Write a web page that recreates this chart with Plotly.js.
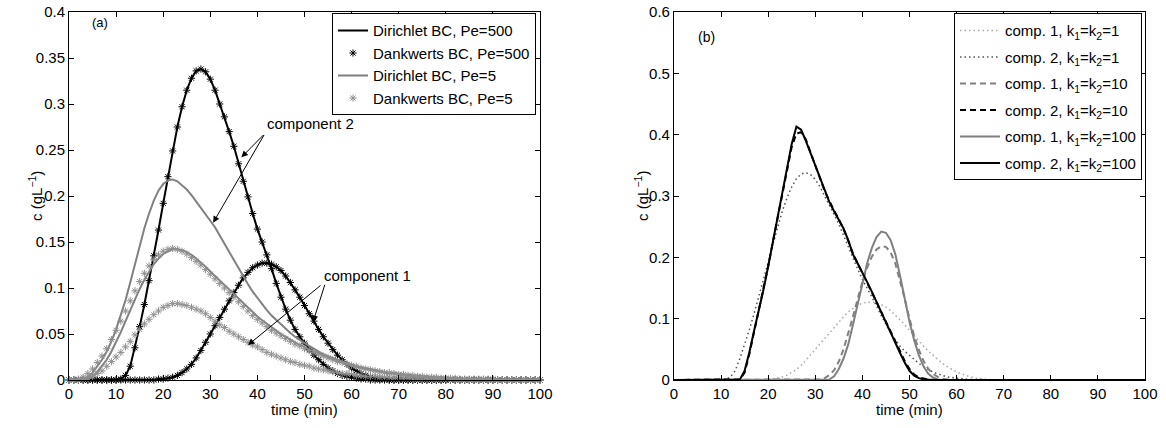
<!DOCTYPE html>
<html>
<head>
<meta charset="utf-8">
<script src="https://cdn.plot.ly/plotly-3.0.1.min.js"></script>
<style>html,body{margin:0;padding:0;background:#fff;}#chart{width:1166px;height:428px;}</style>
</head>
<body>
<div id="chart"></div>
<script>
// time axis (min)
const time = [0,1,2,3,4,5,6,7,8,9,10,11,12,13,14,15,16,17,18,19,20,21,22,23,24,25,26,27,28,29,30,31,32,33,34,35,36,37,38,39,40,41,42,43,44,45,46,47,48,49,50,51,52,53,54,55,56,57,58,59,60,61,62,63,64,65,66,67,68,69,70,71,72,73,74,75,76,77,78,79,80,81,82,83,84,85,86,87,88,89,90,91,92,93,94,95,96,97,98,99,100];

// Panel (a): Pe = 500 (Dirichlet and Dankwerts coincide)
const pe500_c2 = [0,0,0,0,0,0,0,0,0,0,0,0.001,0.005,0.015,0.035,0.058,0.082,0.108,0.135,0.163,0.192,0.221,0.249,0.275,0.297,0.315,0.328,0.336,0.338,0.335,0.327,0.315,0.300,0.286,0.270,0.254,0.235,0.216,0.199,0.181,0.164,0.150,0.136,0.121,0.105,0.090,0.077,0.065,0.055,0.047,0.040,0.033,0.027,0.022,0.017,0.013,0.010,0.007,0.005,0.004,0.003,0.002,0.001,0.001,0,0,0,0,0,0,0,0,0,0,0,0,0,0,0,0,0,0,0,0,0,0,0,0,0,0,0,0,0,0,0,0,0,0,0,0,0];
const pe500_c1 = [0,0,0,0,0,0,0,0,0,0,0,0,0,0,0,0,0,0,0,0.001,0.001,0.002,0.003,0.005,0.008,0.012,0.017,0.024,0.032,0.041,0.050,0.059,0.068,0.077,0.086,0.095,0.103,0.111,0.117,0.122,0.125,0.127,0.127,0.126,0.123,0.119,0.113,0.106,0.098,0.090,0.081,0.072,0.064,0.055,0.047,0.040,0.033,0.027,0.022,0.017,0.013,0.010,0.007,0.005,0.003,0.002,0.001,0.001,0,0,0,0,0,0,0,0,0,0,0,0,0,0,0,0,0,0,0,0,0,0,0,0,0,0,0,0,0,0,0,0,0];

// Panel (a): Pe = 5, Dirichlet BC (lines)
const pe5dir_c2 = [0,0,0,0.001,0.003,0.008,0.015,0.022,0.031,0.042,0.055,0.070,0.087,0.106,0.126,0.146,0.165,0.181,0.195,0.206,0.213,0.217,0.218,0.216,0.212,0.207,0.201,0.194,0.187,0.180,0.173,0.166,0.157,0.148,0.139,0.130,0.121,0.112,0.104,0.096,0.089,0.082,0.076,0.070,0.065,0.060,0.055,0.051,0.047,0.043,0.040,0.037,0.034,0.031,0.028,0.026,0.024,0.022,0.020,0.018,0.016,0.015,0.013,0.012,0.011,0.010,0.009,0.008,0.007,0.007,0.006,0.005,0.005,0.004,0.004,0.003,0.003,0.003,0.002,0.002,0.002,0.002,0.001,0.001,0.001,0.001,0.001,0.001,0.001,0,0,0,0,0,0,0,0,0,0,0,0];
const pe5dir_c1 = [0,0,0,0,0.001,0.004,0.009,0.015,0.022,0.031,0.041,0.052,0.064,0.076,0.088,0.099,0.109,0.118,0.126,0.132,0.137,0.140,0.142,0.142,0.141,0.139,0.136,0.132,0.128,0.123,0.118,0.113,0.108,0.103,0.098,0.093,0.088,0.083,0.078,0.073,0.069,0.065,0.061,0.057,0.053,0.050,0.047,0.044,0.041,0.038,0.036,0.033,0.031,0.029,0.027,0.025,0.023,0.021,0.020,0.018,0.017,0.015,0.014,0.013,0.012,0.011,0.010,0.009,0.008,0.008,0.007,0.006,0.006,0.005,0.005,0.004,0.004,0.003,0.003,0.003,0.002,0.002,0.002,0.002,0.001,0.001,0.001,0.001,0.001,0.001,0.001,0,0,0,0,0,0,0,0,0,0];

// Panel (a): Pe = 5, Dankwerts BC (markers)
const pe5dank_c2 = [0,0,0.001,0.003,0.007,0.012,0.019,0.026,0.034,0.044,0.054,0.064,0.075,0.086,0.097,0.107,0.116,0.124,0.131,0.136,0.140,0.142,0.143,0.142,0.140,0.137,0.133,0.129,0.125,0.120,0.115,0.110,0.105,0.100,0.095,0.090,0.085,0.080,0.075,0.070,0.066,0.062,0.058,0.054,0.051,0.048,0.045,0.042,0.039,0.037,0.034,0.032,0.030,0.028,0.026,0.024,0.022,0.020,0.019,0.017,0.016,0.015,0.013,0.012,0.011,0.010,0.009,0.008,0.008,0.007,0.006,0.006,0.005,0.005,0.004,0.004,0.003,0.003,0.003,0.002,0.002,0.002,0.002,0.001,0.001,0.001,0.001,0.001,0.001,0.001,0.001,0,0,0,0,0,0,0,0,0,0];
const pe5dank_c1 = [0,0,0,0.001,0.002,0.004,0.007,0.010,0.015,0.020,0.025,0.030,0.036,0.042,0.049,0.055,0.061,0.066,0.071,0.075,0.079,0.081,0.083,0.083,0.082,0.081,0.079,0.077,0.075,0.072,0.068,0.064,0.060,0.057,0.053,0.050,0.047,0.044,0.041,0.038,0.036,0.033,0.030,0.028,0.026,0.024,0.022,0.020,0.019,0.017,0.016,0.015,0.013,0.012,0.011,0.010,0.009,0.008,0.007,0.007,0.006,0.005,0.005,0.004,0.004,0.004,0.003,0.003,0.003,0.002,0.002,0.002,0.002,0.001,0.001,0.001,0.001,0.001,0.001,0.001,0.001,0,0,0,0,0,0,0,0,0,0,0,0,0,0,0,0,0,0,0,0];

// Panel (b)
const k1_c1 = pe500_c1;
const k1_c2 = pe500_c2;
const k10_c1 = [0,0,0,0,0,0,0,0,0,0,0,0,0,0,0,0,0,0,0,0,0,0,0,0,0,0,0,0,0,0,0,0.001,0.003,0.008,0.016,0.030,0.050,0.075,0.103,0.132,0.160,0.183,0.201,0.213,0.218,0.217,0.208,0.190,0.163,0.132,0.100,0.072,0.049,0.031,0.018,0.010,0.005,0.002,0.001,0,0,0,0,0,0,0,0,0,0,0,0,0,0,0,0,0,0,0,0,0,0,0,0,0,0,0,0,0,0,0,0,0,0,0,0,0,0,0,0,0,0];
const k10_c2 = [0,0,0,0,0,0,0,0,0,0,0,0,0,0,0.001,0.012,0.042,0.078,0.112,0.147,0.185,0.225,0.265,0.304,0.343,0.380,0.402,0.404,0.392,0.372,0.351,0.329,0.308,0.291,0.276,0.262,0.246,0.227,0.206,0.190,0.175,0.159,0.143,0.127,0.111,0.095,0.079,0.062,0.046,0.031,0.018,0.009,0.004,0.002,0.001,0,0,0,0,0,0,0,0,0,0,0,0,0,0,0,0,0,0,0,0,0,0,0,0,0,0,0,0,0,0,0,0,0,0,0,0,0,0,0,0,0,0,0,0,0,0];
const k100_c1 = [0,0,0,0,0,0,0,0,0,0,0,0,0,0,0,0,0,0,0,0,0,0,0,0,0,0,0,0,0,0,0,0,0,0.001,0.006,0.018,0.035,0.058,0.090,0.125,0.160,0.190,0.215,0.233,0.242,0.240,0.228,0.205,0.170,0.130,0.095,0.065,0.040,0.022,0.010,0.004,0.001,0,0,0,0,0,0,0,0,0,0,0,0,0,0,0,0,0,0,0,0,0,0,0,0,0,0,0,0,0,0,0,0,0,0,0,0,0,0,0,0,0,0,0,0];
const k100_c2 = [0,0,0,0,0,0,0,0,0,0,0,0,0,0,0.001,0.015,0.045,0.080,0.113,0.147,0.185,0.225,0.265,0.305,0.345,0.385,0.413,0.408,0.390,0.370,0.350,0.328,0.307,0.290,0.275,0.262,0.247,0.228,0.205,0.190,0.176,0.160,0.144,0.127,0.110,0.094,0.077,0.060,0.044,0.028,0.015,0.007,0.003,0.001,0,0,0,0,0,0,0,0,0,0,0,0,0,0,0,0,0,0,0,0,0,0,0,0,0,0,0,0,0,0,0,0,0,0,0,0,0,0,0,0,0,0,0,0,0,0,0];

// Labels
const legendA = ['Dirichlet BC, Pe=500', 'Dankwerts BC, Pe=500', 'Dirichlet BC, Pe=5', 'Dankwerts BC, Pe=5'];
const legendB = ['comp. 1, k<sub>1</sub>=k<sub>2</sub>=1', 'comp. 2, k<sub>1</sub>=k<sub>2</sub>=1',
                 'comp. 1, k<sub>1</sub>=k<sub>2</sub>=10', 'comp. 2, k<sub>1</sub>=k<sub>2</sub>=10',
                 'comp. 1, k<sub>1</sub>=k<sub>2</sub>=100', 'comp. 2, k<sub>1</sub>=k<sub>2</sub>=100'];
const xTicks = [0,10,20,30,40,50,60,70,80,90,100];
const yTitle = 'c (gL<sup>−1</sup>)';
const xTitle = 'time (min)';

const BLACK = '#000000', GRAY = '#808080', LGRAY = '#8f8f8f';

function lineTr(y, color, name, show, xa, ya, dash, width, leg, grp) {
  return {x: time, y: y, type: 'scatter', mode: 'lines', name: name, showlegend: show,
          xaxis: xa, yaxis: ya, line: {color: color, width: width || 2, dash: dash || 'solid'},
          legend: leg || 'legend', legendgroup: grp, cliponaxis: false, hoverinfo: 'skip'};
}
function markTr(y, color, name, show) {
  return {x: time, y: y, type: 'scatter', mode: 'markers', name: name, showlegend: show,
          xaxis: 'x', yaxis: 'y', cliponaxis: false, hoverinfo: 'skip',
          marker: {symbol: 'asterisk-open', size: 6, color: color, line: {color: color, width: 1}}};
}

const traces = [
  lineTr(pe500_c1, BLACK, legendA[0], true, 'x', 'y'),
  lineTr(pe500_c2, BLACK, legendA[0], false, 'x', 'y'),
  markTr(pe500_c1, BLACK, legendA[1], true),
  markTr(pe500_c2, BLACK, legendA[1], false),
  lineTr(pe5dir_c1, GRAY, legendA[2], true, 'x', 'y'),
  lineTr(pe5dir_c2, GRAY, legendA[2], false, 'x', 'y'),
  markTr(pe5dank_c1, LGRAY, legendA[3], true),
  markTr(pe5dank_c2, LGRAY, legendA[3], false),

  lineTr(k1_c1, '#a8a8a8', legendB[0], true, 'x2', 'y2', '1.5px,3px', 1.5, 'legend2', 'g1'),
  lineTr(k1_c2, '#505050', legendB[1], true, 'x2', 'y2', '1.5px,3px', 1.5, 'legend2', 'g2'),
  lineTr(k10_c1, GRAY, legendB[2], true, 'x2', 'y2', '6px,4px', 2, 'legend2', 'g3'),
  lineTr(k10_c2, BLACK, legendB[3], true, 'x2', 'y2', '6px,4px', 2, 'legend2', 'g4'),
  lineTr(k100_c1, GRAY, legendB[4], true, 'x2', 'y2', 'solid', 2, 'legend2', 'g5'),
  lineTr(k100_c2, BLACK, legendB[5], true, 'x2', 'y2', 'solid', 2, 'legend2', 'g6')
];

const FONT = 'Liberation Sans, Arial, Helvetica, sans-serif';
const axBase = {showline: true, linecolor: '#000', linewidth: 1, mirror: 'ticks', ticks: 'inside',
  ticklen: 5, tickcolor: '#000', showgrid: false, zeroline: false, tickfont: {size: 15, color: '#000'}};

function arrow(xh, yh, xt, yt, xr, yr) {
  return {x: xh, y: yh, ax: xt, ay: yt, xref: xr, yref: yr, axref: xr, ayref: yr, text: '',
          showarrow: true, arrowhead: 2, arrowsize: 1.3, arrowwidth: 1, arrowcolor: '#000', standoff: 0, startstandoff: 0};
}
function label(text, x, y, angle) {
  return {x: x, y: y, xref: 'paper', yref: 'paper', text: text, textangle: angle || 0, showarrow: false,
          xanchor: 'center', yanchor: 'middle', font: {size: 15}};
}

const layout = {
  width: 1166, height: 428,
  margin: {l: 0, r: 0, t: 12, b: 48},
  paper_bgcolor: '#fff', plot_bgcolor: '#fff',
  font: {family: FONT, size: 15, color: '#000'},
  xaxis: Object.assign({}, axBase, {domain: [0.0592, 0.4631], range: [0, 100], tickvals: xTicks, anchor: 'y'}),
  yaxis: Object.assign({}, axBase, {domain: [0, 1], range: [0, 0.4], dtick: 0.05, tick0: 0, anchor: 'x'}),
  xaxis2: Object.assign({}, axBase, {domain: [0.578, 0.982], range: [0, 100], tickvals: xTicks, anchor: 'y2'}),
  yaxis2: Object.assign({}, axBase, {domain: [0, 1], range: [0, 0.6], dtick: 0.1, tick0: 0, anchor: 'x2'}),
  legend: {x: 0.4597, xanchor: 'right', y: 0.9965, yanchor: 'top', bgcolor: '#fff', bordercolor: '#000',
    borderwidth: 1, font: {size: 15}, itemwidth: 30},
  legend2: {x: 0.9794, xanchor: 'right', y: 0.9965, yanchor: 'top', bgcolor: '#fff', bordercolor: '#000',
    borderwidth: 1, font: {size: 15}, itemwidth: 40, tracegroupgap: 4},
  annotations: [
    label(yTitle, 0.030, 0.5, -90),
    label(yTitle, 0.5497, 0.5, -90),
    label(xTitle, 0.2612, -0.080),
    label(xTitle, 0.780, -0.080),
    {x: 6.6, y: 0.389, xref: 'x', yref: 'y', text: '(a)', showarrow: false, font: {size: 13}},
    {x: 7.0, y: 0.559, xref: 'x2', yref: 'y2', text: '(b)', showarrow: false, font: {size: 14}},
    {x: 51.2, y: 0.279, xref: 'x', yref: 'y', text: 'component 2', showarrow: false, font: {size: 15}},
    arrow(36.6, 0.242, 41.6, 0.268, 'x', 'y'),
    arrow(30.6, 0.171, 41.6, 0.268, 'x', 'y'),
    {x: 63.3, y: 0.114, xref: 'x', yref: 'y', text: 'component 1', showarrow: false, font: {size: 15}},
    arrow(38.0, 0.038, 53.7, 0.104, 'x', 'y'),
    arrow(51.8, 0.063, 54.4, 0.105, 'x', 'y')
  ]
};

Plotly.newPlot('chart', traces, layout, {displayModeBar: false, staticPlot: true});
</script>
</body>
</html>
